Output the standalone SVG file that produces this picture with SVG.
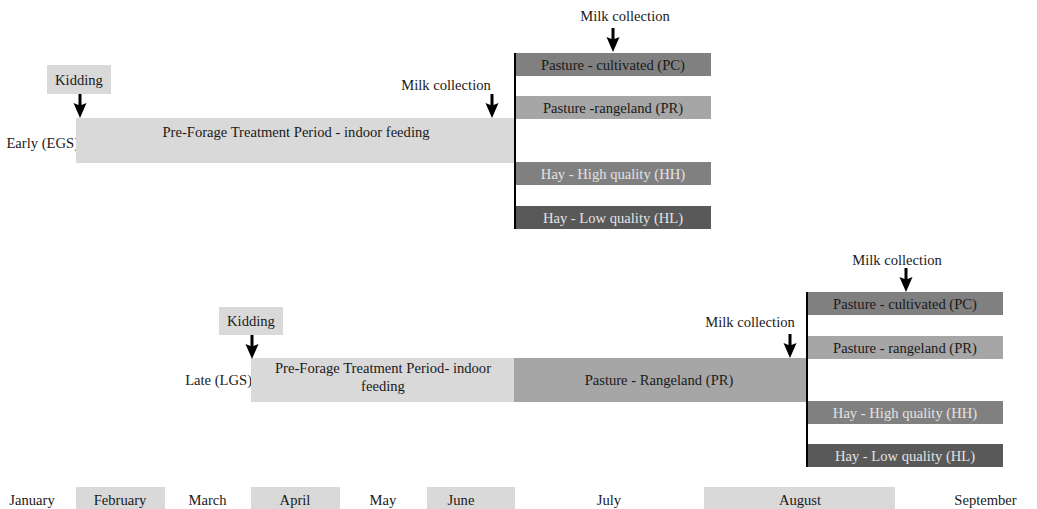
<svg xmlns="http://www.w3.org/2000/svg" width="1037" height="509" viewBox="0 0 1037 509">
<defs>
<style>
text{font-family:"Liberation Serif","Times New Roman",serif;font-size:14.6px;fill:#1a1a1a;text-anchor:middle}
.lt{fill:#d9d9d9}
.pc{fill:#808080}
.pr{fill:#a6a6a6}
.hh{fill:#808080}
.hl{fill:#595959}
.wt{fill:#e3e3e3}
.end{text-anchor:end}
.vline{stroke:#000;stroke-width:2;fill:none}
</style>
<path id="arr" d="M-1.5,0 H1.5 V11 L6.5,9 L0,24 L-6.5,9 L-1.5,11 Z" fill="#000"/>
</defs>

<g id="early-row">
<text class="end" x="79" y="148">Early (EGS)</text>
<g id="early-kidding">
<rect class="lt" x="47" y="65" width="64" height="29"/>
<text x="79" y="85">Kidding</text>
</g>
<g id="early-preforage">
<rect class="lt" x="76" y="118" width="439" height="45"/>
<text x="296" y="137">Pre-Forage Treatment Period - indoor feeding</text>
</g>
<g id="early-milk1"><text x="446" y="90">Milk collection</text></g>
<g id="early-milk2"><text x="625" y="21">Milk collection</text></g>
<g id="early-pc">
<rect class="pc" x="515" y="53" width="196" height="23"/>
<text x="613" y="69.5">Pasture - cultivated (PC)</text>
</g>
<g id="early-pr">
<rect class="pr" x="515" y="96" width="196" height="23"/>
<text x="613" y="112.5">Pasture -rangeland (PR)</text>
</g>
<g id="early-hh">
<rect class="hh" x="515" y="162" width="196" height="23"/>
<text class="wt" x="613" y="178.5">Hay - High quality (HH)</text>
</g>
<g id="early-hl">
<rect class="hl" x="515" y="206" width="196" height="23"/>
<text class="wt" x="613" y="222.5">Hay - Low quality (HL)</text>
</g>
</g>

<g id="late-row">
<text class="end" x="252" y="385">Late (LGS)</text>
<g id="late-kidding">
<rect class="lt" x="219" y="307" width="64" height="28"/>
<text x="251" y="326">Kidding</text>
</g>
<g id="late-preforage">
<rect class="lt" x="251" y="358" width="263" height="44"/>
<text x="383" y="373">Pre-Forage Treatment Period- indoor</text>
<text x="383" y="391">feeding</text>
</g>
<g id="late-rangeland">
<rect class="pr" x="514" y="358" width="293" height="44"/>
<text x="659" y="385">Pasture - Rangeland (PR)</text>
</g>
<g id="late-milk1"><text x="750" y="327">Milk collection</text></g>
<g id="late-milk2"><text x="897" y="265">Milk collection</text></g>
<g id="late-pc">
<rect class="pc" x="807" y="292" width="196" height="23"/>
<text x="905" y="308.5">Pasture - cultivated (PC)</text>
</g>
<g id="late-pr">
<rect class="pr" x="807" y="336" width="196" height="23"/>
<text x="905" y="352.5">Pasture - rangeland (PR)</text>
</g>
<g id="late-hh">
<rect class="hh" x="807" y="401" width="196" height="23"/>
<text class="wt" x="905" y="417.5">Hay - High quality (HH)</text>
</g>
<g id="late-hl">
<rect class="hl" x="807" y="444" width="196" height="23"/>
<text class="wt" x="905" y="460.5">Hay - Low quality (HL)</text>
</g>
</g>

<g id="connectors">
<line class="vline" x1="515" y1="53" x2="515" y2="229"/>
<line class="vline" x1="807" y1="292" x2="807" y2="467"/>
<use href="#arr" x="80" y="94"/>
<use href="#arr" x="492" y="94"/>
<use href="#arr" x="613" y="28"/>
<use href="#arr" x="252" y="335"/>
<use href="#arr" x="790" y="334"/>
<use href="#arr" x="906" y="268"/>
</g>

<g id="months">
<rect class="lt" x="76" y="487" width="89" height="22"/>
<rect class="lt" x="251" y="487" width="89" height="22"/>
<rect class="lt" x="427" y="487" width="88" height="22"/>
<rect class="lt" x="704" y="487" width="191" height="22"/>
<text x="32" y="505">January</text>
<text x="120" y="505">February</text>
<text x="207.5" y="505">March</text>
<text x="295" y="505">April</text>
<text x="383" y="505">May</text>
<text x="461" y="505">June</text>
<text x="609" y="505">July</text>
<text x="800" y="505">August</text>
<text x="985.5" y="505">September</text>
</g>
</svg>
